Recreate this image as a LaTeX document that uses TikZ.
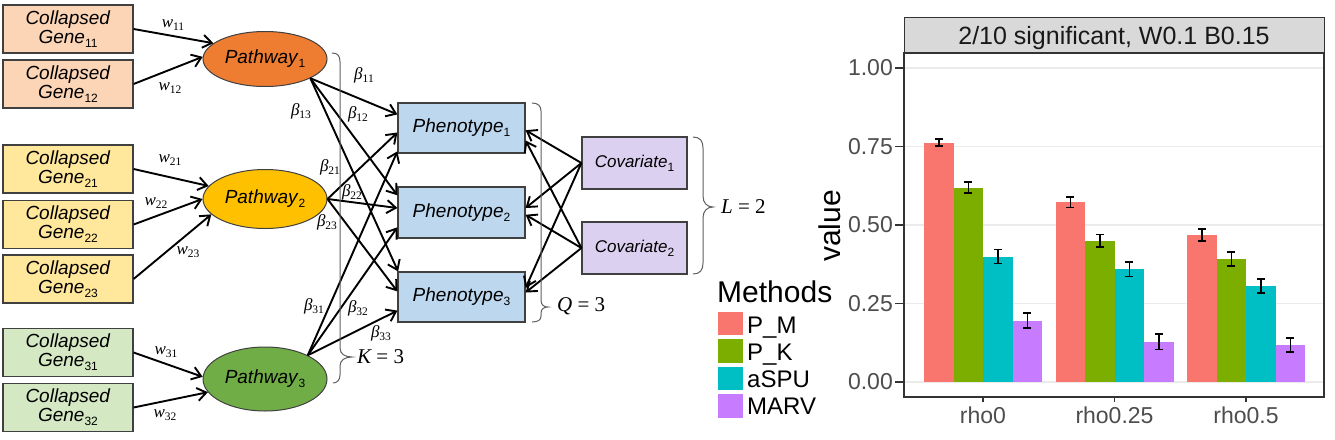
\documentclass[tikz,border=0pt]{standalone}
\usepackage{fontspec}
\setmainfont{Liberation Sans}
\newfontfamily\tnr{Liberation Serif}
\usetikzlibrary{shapes.geometric,arrows.meta}
\definecolor{bord}{HTML}{404040}
\definecolor{gA}{HTML}{FBD5B6}
\definecolor{gB}{HTML}{FFE79B}
\definecolor{gC}{HTML}{D3E8C3}
\definecolor{pA}{HTML}{EE7D32}
\definecolor{pB}{HTML}{FFC000}
\definecolor{pC}{HTML}{70AD47}
\definecolor{phc}{HTML}{BDD7EE}
\definecolor{cvc}{HTML}{DCD0F0}
\definecolor{brc}{HTML}{606060}
\definecolor{cPM}{HTML}{F8766D}
\definecolor{cPK}{HTML}{7CAE00}
\definecolor{cAS}{HTML}{00BFC4}
\definecolor{cMV}{HTML}{C77CFF}
\definecolor{grid}{HTML}{EBEBEB}
\definecolor{axt}{HTML}{4D4D4D}
\definecolor{frm}{HTML}{333333}
\definecolor{strip}{HTML}{D9D9D9}
\newcommand\sbs[1]{\raisebox{-4pt}{\fontsize{12pt}{12pt}\selectfont #1}}
\newcommand\gtxt[1]{\textit{Collapsed}\\\textit{Gene}\sbs{#1}}
\newcommand\ml[2]{{\tnr\itshape #1}\raisebox{-3.5pt}{\tnr\fontsize{11.5pt}{11.5pt}\selectfont #2}}
\begin{document}
\begin{tikzpicture}[x=1pt,y=-1pt,
  gene/.style={rectangle,draw=bord,line width=1.2pt,minimum width=130pt,minimum height=48pt,inner sep=0pt,align=center,font=\fontsize{19pt}{19pt}\selectfont},
  pway/.style={ellipse,draw=bord,line width=1pt,minimum width=124pt,inner sep=0pt,font=\fontsize{19pt}{19pt}\selectfont},
  pheno/.style={rectangle,draw=bord,line width=1.2pt,fill=phc,minimum width=127pt,minimum height=50pt,inner sep=0pt,font=\fontsize{19pt}{19pt}\selectfont},
  covar/.style={rectangle,draw=bord,line width=1.2pt,fill=cvc,minimum width=105pt,minimum height=52pt,inner sep=0pt,font=\fontsize{17pt}{17pt}\selectfont},
  arr/.style={line width=1.9pt,-{Straight Barb[length=9pt,width=13pt,line width=1.9pt]}},
  mlab/.style={inner sep=0pt,font=\fontsize{17pt}{17pt}\selectfont},
  brace/.style={draw=brc,line width=1pt},
  tick/.style={draw=frm,line width=1.2pt},
  ticklab/.style={inner sep=0pt,text=axt,font=\fontsize{23pt}{23pt}\selectfont},
  leglab/.style={inner sep=0pt,anchor=base west,font=\fontsize{24pt}{24pt}\selectfont}
]
\useasboundingbox[fill=white] (0,0) rectangle (1335,439);

% genes
\node[gene,fill=gA] (g11) at (68,29) {\gtxt{11}};
\node[gene,fill=gA] (g12) at (68,84) {\gtxt{12}};
\node[gene,fill=gB] (g21) at (68,169) {\gtxt{21}};
\node[gene,fill=gB] (g22) at (68,224.5) {\gtxt{22}};
\node[gene,fill=gB] (g23) at (68,279) {\gtxt{23}};
\node[gene,fill=gC] (g31) at (68,352.5) {\gtxt{31}};
\node[gene,fill=gC] (g32) at (68,407.5) {\gtxt{32}};

% pathways
\node[pway,fill=pA,minimum height=55pt] (p1) at (265,59) {\textit{Pathway}\sbs{1}};
\node[pway,fill=pB,minimum height=59pt] (p2) at (265,199) {\textit{Pathway}\sbs{2}};
\node[pway,fill=pC,minimum height=64pt] (p3) at (265,379) {\textit{Pathway}\sbs{3}};

% phenotypes and covariates
\node[pheno] (f1) at (461.5,128) {\textit{Phenotype}\sbs{1}};
\node[pheno,minimum height=51pt] (f2) at (461.5,212.5) {\textit{Phenotype}\sbs{2}};
\node[pheno] (f3) at (461.5,297) {\textit{Phenotype}\sbs{3}};
\node[covar] (c1) at (634.5,163) {\textit{Covariate}\sbs{1}};
\node[covar] (c2) at (634.5,248) {\textit{Covariate}\sbs{2}};

% gene -> pathway
\draw[arr] (g11.east) -- (p1.163);
\draw[arr] (g12.east) -- (p1.178);
\draw[arr] (g21.east) -- (p2.167);
\draw[arr] (g22.east) -- (p2.180);
\draw[arr] (g23.east) -- (p2.196);
\draw[arr] (g31.east) -- (p3.178);
\draw[arr] (g32.east) -- (p3.193);

% pathway -> phenotype
\draw[arr] (p1.337) -- (f1.168);
\draw[arr] (p1.337) -- (f2.165);
\draw[arr] (p1.337) -- (f3.158);
\draw[arr] (p2.east) -- (f1.184);
\draw[arr] (p2.east) -- (f2.176);
\draw[arr] (p2.east) -- (f3.175);
\draw[arr] (p3.29) -- (f1.200);
\draw[arr] (p3.29) -- (f2.193);
\draw[arr] (p3.29) -- (f3.192);

% covariate -> phenotype
\draw[arr] (c1.west) -- (f1.358);
\draw[arr] (c1.west) -- (f2.4);
\draw[arr] (c1.west) -- (f3.8);
\draw[arr] (c2.west) -- (f1.349);
\draw[arr] (c2.west) -- (f2.358);
\draw[arr] (c2.west) -- (f3.4);

% weights
\node[mlab] (w11) at (173,25) {\ml{w}{11}};
\node[mlab] (w12) at (170,88) {\ml{w}{12}};
\node[mlab] (w21) at (170,160) {\ml{w}{21}};
\node[mlab] (w22) at (156,203) {\ml{w}{22}};
\node[mlab] (w23) at (188,252) {\ml{w}{23}};
\node[mlab] (w31) at (166,352) {\ml{w}{31}};
\node[mlab] (w32) at (165,415) {\ml{w}{32}};
\node[mlab] (b11) at (364,75) {\ml{β}{11}};
\node[mlab] (b12) at (358,114) {\ml{β}{12}};
\node[mlab] (b13) at (301,111) {\ml{β}{13}};
\node[mlab] (b21) at (330,167) {\ml{β}{21}};
\node[mlab] (b22) at (352,192) {\ml{β}{22}};
\node[mlab] (b23) at (327,222) {\ml{β}{23}};
\node[mlab] (b31) at (314,306) {\ml{β}{31}};
\node[mlab] (b32) at (358,308) {\ml{β}{32}};
\node[mlab] (b33) at (381,333) {\ml{β}{33}};

% braces
\draw[brace] (332,53) .. controls (338,53) and (340,56) .. (340,62) -- (340,348)
  .. controls (340,354) and (345,357) .. (352,357) .. controls (345,357) and (340,360) .. (340,366)
  -- (340,375) .. controls (340,380) and (337,383) .. (333,383);
\draw[brace] (532,103) .. controls (538,103) and (541,106) .. (541,111) -- (541,300)
  .. controls (541,305) and (544,307) .. (548,307) .. controls (544,307) and (541,309) .. (541,313)
  -- (541,316) .. controls (541,320) and (538,322) .. (532,322);
\draw[brace] (693,137) .. controls (700,137) and (703,141) .. (703,148) -- (703,196)
  .. controls (703,203) and (707,207) .. (713,207) .. controls (707,207) and (703,211) .. (703,218)
  -- (703,263) .. controls (703,270) and (700,274) .. (693,274);
\node[inner sep=0pt,anchor=west,font=\fontsize{21pt}{21pt}\selectfont] (kl) at (357,357) {{\tnr\itshape K}{\tnr\ =\ 3}};
\node[inner sep=0pt,anchor=west,font=\fontsize{21pt}{21pt}\selectfont] (ql) at (557,306) {{\tnr\itshape Q}{\tnr\ =\ 3}};
\node[inner sep=0pt,anchor=west,font=\fontsize{21pt}{21pt}\selectfont] (ll) at (721,207) {{\tnr\itshape L}{\tnr\ =\ 2}};

% ---------- chart ----------
\foreach \yy in {68,146.5,225,303.5,382} {
  \draw[grid,line width=1.4pt] (904,\yy) -- (1324,\yy);
}
\foreach \xc/\yt/\ee/\cc in {
  938.75/142.7/3.5/cPM, 968.25/187.7/5.5/cPK, 997.75/256.7/7/cAS, 1027.25/320.7/7.5/cMV,
  1070.25/202.3/5.3/cPM, 1099.75/240.7/6.2/cPK, 1129.25/269.3/7.2/cAS, 1158.75/341.7/7.6/cMV,
  1201.75/235/6.2/cPM, 1231.25/259/7.2/cPK, 1260.75/286/7.2/cAS, 1290.25/345/7/cMV} {
  \fill[\cc] (\xc-14.75,382) rectangle (\xc+14.75,\yt);
  \draw[black,line width=1.5pt] (\xc,\yt-\ee) -- (\xc,\yt+\ee);
  \draw[black,line width=1.5pt] (\xc-3.8,\yt-\ee) -- (\xc+3.8,\yt-\ee);
  \draw[black,line width=1.5pt] (\xc-3.8,\yt+\ee) -- (\xc+3.8,\yt+\ee);
}
\node[draw=frm,line width=1.4pt,fill=strip,minimum width=420pt,minimum height=36pt,inner sep=0pt,anchor=north west] (strp) at (904,17) {};
\node[inner sep=0pt,anchor=base,font=\fontsize{25pt}{25pt}\selectfont,text=black!90] (stxt) at (1114,44) {2/10 significant, W0.1 B0.15};
\draw[frm,line width=1.4pt] (904,53) rectangle (1324,397);
% y axis
\foreach \yy/\lab in {68/1.00,146.5/0.75,225/0.50,303.5/0.25,382/0.00} {
  \draw[tick] (895,\yy) -- (904,\yy);
  \node[ticklab,anchor=east] at (893,\yy) {\lab};
}
\foreach \xx/\lab in {983/rho0,1114.5/rho0.25,1246/rho0.5} {
  \draw[tick] (\xx,397) -- (\xx,402);
  \node[ticklab,anchor=base] at (\xx,423) {\lab};
}
\node[inner sep=0pt,rotate=90,font=\fontsize{30pt}{30pt}\selectfont] (vlab) at (830,226) {value};
% legend
\node[inner sep=0pt,anchor=base west,font=\fontsize{30pt}{30pt}\selectfont] (ltit) at (717,302) {Methods};
\fill[cPM] (718,312) rectangle (743,335);
\fill[cPK] (718,339) rectangle (743,363);
\fill[cAS] (718,367) rectangle (743,390);
\fill[cMV] (718,394) rectangle (743,418);
\node[leglab] (l1) at (747,333) {P\_M};
\node[leglab] (l2) at (747,360) {P\_K};
\node[leglab] (l3) at (747,387) {aSPU};
\node[leglab] (l4) at (747,414) {MARV};
\end{tikzpicture}
\end{document}
